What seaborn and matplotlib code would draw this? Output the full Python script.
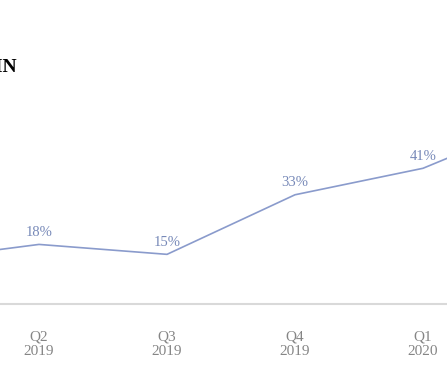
import matplotlib
matplotlib.use("Agg")
import matplotlib.pyplot as plt
import seaborn as sns
import pandas as pd

# quarterly gross margin (%), first and last points fall outside the crop
quarters = ["Q1\n2019", "Q2\n2019", "Q3\n2019", "Q4\n2019", "Q1\n2020", "Q2\n2020"]
margin = [13, 18, 15, 33, 41, 57]
title = "GROSS MARGIN"

df = pd.DataFrame({"quarter": quarters, "margin": margin})
df["pos"] = range(len(df))
shown = df.iloc[1:-1]   # the quarters visible in the crop

sns.set_style("white")
plt.rcParams["font.family"] = ["Liberation Serif", "DejaVu Serif"]

W, H = 447, 373
fig = plt.figure(figsize=(W / 100, H / 100), dpi=100)

# axes wider than the figure so the chart looks cropped like the reference
step = 128
ax_left = 39 - step * 1.5
ax_w = step * len(quarters)
y_zero = 304
px_per = 3.31
ymax = 72
ax = fig.add_axes([ax_left / W, (H - y_zero) / H, ax_w / W, px_per * ymax / H])

line_col = "#8a9bcc"
sns.lineplot(data=df, x="pos", y="margin", ax=ax, color=line_col, linewidth=1.2)

for p, v in zip(shown["pos"], shown["margin"]):
    ax.annotate(f"{v}%", (p, v), xytext=(0, 8.5), textcoords="offset points",
                ha="center", va="center", fontsize=10.5, color="#7789b8")

ax.set_xlim(-0.5, len(quarters) - 0.5)
ax.set_ylim(0, ymax)
ax.set_xticks(shown["pos"])
ax.set_xticklabels(shown["quarter"], fontsize=11, color="#858585", linespacing=1.15)
ax.set_yticks([])
ax.tick_params(axis="x", length=0, pad=19)
ax.set_xlabel("")
ax.set_ylabel("")
for s in ["top", "right", "left"]:
    ax.spines[s].set_visible(False)
ax.spines["bottom"].set_color("#d9d9d9")
ax.spines["bottom"].set_linewidth(1.5)

fig.text(17 / W, 1 - 72 / H, title, ha="right", va="baseline",
         fontsize=14, fontweight="bold", color="black")

fig.savefig("out.png", dpi=100)
